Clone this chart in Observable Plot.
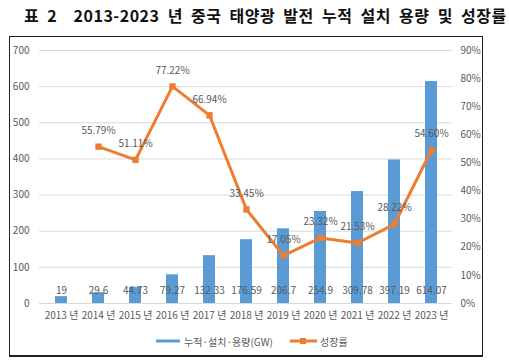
<!DOCTYPE html>
<html><head><meta charset="utf-8">
<script src="https://cdn.jsdelivr.net/npm/d3@7"></script>
<script src="https://cdn.jsdelivr.net/npm/@observablehq/plot@0.6"></script>
<style>
body{margin:0;width:509px;height:364px;position:relative;background:#fff;overflow:hidden;font-family:"Noto Sans CJK KR",sans-serif;}
#title{position:absolute;left:24px;top:3px;font-size:16px;font-weight:bold;white-space:pre;color:#111;word-spacing:4px;letter-spacing:0.5px;}
#frame{position:absolute;left:9px;top:36px;width:472px;height:318px;border:1px solid #222;border-bottom-width:2px;}
#chart{position:absolute;left:0;top:0;}
#legend{position:absolute;left:0;top:333px;width:509px;height:16px;font-size:10px;color:#595959;}
.item{position:absolute;top:0;display:flex;align-items:center;height:16px;white-space:nowrap;}
</style></head>
<body>
<div id="title">표 2  2013-2023 년 중국 태양광 발전 누적 설치 용량 및 성장률</div>
<div id="frame"></div>
<div id="chart"></div>
<div id="legend">
  <div class="item" style="left:156px"><svg width="26" height="8"><rect x="0" y="2.5" width="24" height="3" fill="#5B9BD5"/></svg><span style="margin-left:2px">누적·설치·용량(GW)</span></div>
  <div class="item" style="left:290px"><svg width="28" height="8"><line x1="0" x2="27" y1="4" y2="4" stroke="#ED7D31" stroke-width="3"/><rect x="10" y="1" width="6" height="6" fill="#ED7D31"/></svg><span style="margin-left:2px">성장률</span></div>
</div>
<script>
const years = ["2013 년","2014 년","2015 년","2016 년","2017 년","2018 년","2019 년","2020 년","2021 년","2022 년","2023 년"];
const capacity = [19, 29.6, 44.73, 79.27, 132.33, 176.59, 206.7, 254.9, 309.78, 397.19, 614.07];
const capacityLabels = ["19","29.6","44.73","79.27","132.33","176.59","206.7","254.9","309.78","397.19","614.07"];
const growth = [null, 55.79, 51.11, 77.22, 66.94, 33.45, 17.05, 23.32, 21.53, 28.22, 54.60];
const leftTicks = [0,100,200,300,400,500,600,700];
const rightTicks = [0,10,20,30,40,50,60,70,80,90];

const K = 700/90;
const rows = years.map((y,i)=>({year:y, c:capacity[i], cl:capacityLabels[i], g:growth[i]}));
const gRows = rows.filter(d=>d.g!=null);
const txt = "#595959";

const chart = Plot.plot({
  width: 509, height: 364,
  marginLeft: 39, marginRight: 57, marginTop: 50, marginBottom: 61,
  style: {fontFamily: '"Noto Sans CJK KR", sans-serif', fontSize: "10px", color: txt, background: "transparent"},
  x: {domain: years, paddingInner: 0.68, paddingOuter: 0.33, label: null},
  y: {domain: [0,700], label: null},
  marks: [
    Plot.gridY(leftTicks, {stroke:"#d9d9d9", strokeOpacity:1}),
    Plot.axisY(leftTicks, {tickSize:0, tickPadding:10, label:null, fill:txt}),
    Plot.axisY(rightTicks.map(t=>t*K), {anchor:"right", tickSize:0, tickPadding:8, label:null, fill:txt, tickFormat: d=>Math.round(d/K)+"%"}),
    Plot.axisX({tickSize:0, tickPadding:8, label:null, fill:txt}),
    Plot.barY(rows, {x:"year", y:"c", fill:"#5B9BD5"}),
    Plot.text(rows, {x:"year", y:0, dy:-13, text:"cl", fill:txt}),
    Plot.line(gRows, {x:"year", y:d=>d.g*K, stroke:"#ED7D31", strokeWidth:3}),
    Plot.dot(gRows, {x:"year", y:d=>d.g*K, symbol:"square", r:3.6, fill:"#ED7D31"}),
    Plot.text(gRows, {x:"year", y:d=>d.g*K, dy:-16, text:d=>d.g.toFixed(2)+"%", fill:txt})
  ]
});
document.getElementById("chart").appendChild(chart);
</script>
</body></html>
